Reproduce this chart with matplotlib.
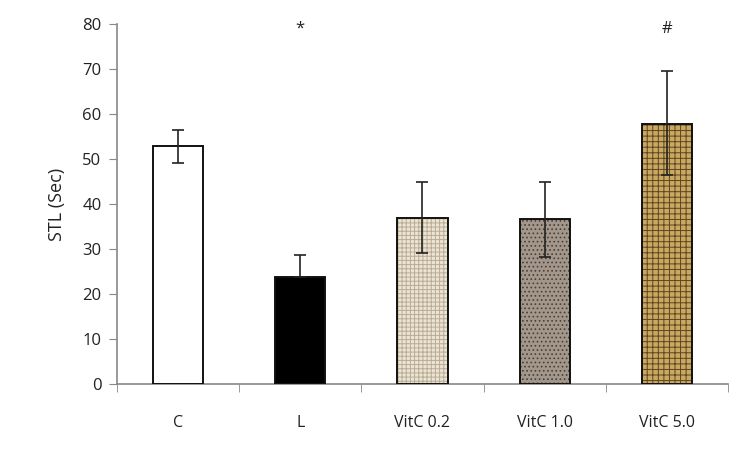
import numpy as np
import matplotlib
matplotlib.use('Agg')
import matplotlib.pyplot as plt

groups = ['C', 'L', 'VitC 0.2', 'VitC 1.0', 'VitC 5.0']
means = [53.0, 23.8, 36.9, 36.7, 57.8]
err_hi = [3.5, 4.9, 8.0, 8.2, 11.8]
err_lo = [3.8, 0.0, 7.8, 8.5, 11.4]
marks = ['', '*', '', '', '#']

fills = ['white', 'black', '#ece4d2', '#a3968a', '#c9a862']
hatch_cols = ['white', 'black', '#b9ac96', '#4a3f38', '#5e4520']
hatches = ['', '', '++++', '....', '+++']

plt.rcParams['font.family'] = ['Open Sans', 'DejaVu Sans']
plt.rcParams['hatch.linewidth'] = 0.7

fig = plt.figure(figsize=(7.53, 4.55), dpi=100)
ax = fig.add_axes([0.155, 0.156, 0.812, 0.791])

x = np.arange(len(groups))
w = 0.41
for i in range(len(groups)):
    ax.bar(x[i], means[i], w, color=fills[i], hatch=hatches[i] or None,
           edgecolor=hatch_cols[i], linewidth=0, zorder=2)
ax.bar(x, means, w, facecolor='none', edgecolor='#111111', linewidth=1.4, zorder=3)
ax.errorbar(x, means, yerr=[err_lo, err_hi], fmt='none', ecolor='#222222',
            elinewidth=1.2, capsize=4.5, capthick=1.2, zorder=4)

for i, m in enumerate(marks):
    if m:
        ax.text(x[i], 79, m, ha='center', va='center', fontsize=12, color='#222222')

ax.set_xlim(-0.5, 4.5)
ax.set_ylim(0, 80)
ax.set_yticks(range(0, 81, 10))
ax.set_xticks(x)
ax.set_xticklabels(groups)
ax.set_xticks(np.arange(-0.5, 4.6, 1), minor=True)
ax.tick_params(axis='x', which='major', length=0, pad=22, labelsize=11.5, labelcolor='#222222')
ax.tick_params(axis='x', which='minor', length=6, direction='out', color='#888888')
ax.tick_params(axis='y', length=6, direction='out', color='#888888', labelsize=12,
               labelcolor='#222222', pad=5)
for s in ['top', 'right']:
    ax.spines[s].set_visible(False)
for s in ['left', 'bottom']:
    ax.spines[s].set_color('#888888')
    ax.spines[s].set_linewidth(1.2)
ax.set_ylabel('STL (Sec)', fontsize=13, labelpad=12, color='#222222')

fig.savefig('out.png', dpi=100)
